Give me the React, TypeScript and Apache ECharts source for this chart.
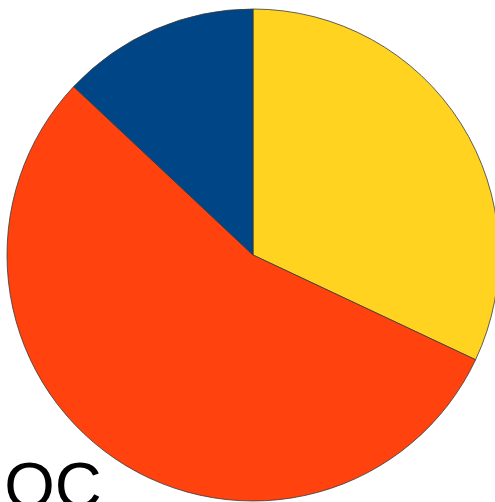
import React, { useEffect, useRef } from "react";
import * as echarts from "echarts";

const categories = ["A", "B", "C"];
const values = [32, 55, 13];
const colors = ["#ffd320", "#ff420e", "#004586"];
const titleText = "LOC";

export default function App() {
  const ref = useRef<HTMLDivElement>(null);
  useEffect(() => {
    if (!ref.current) return;
    const chart = echarts.init(ref.current, undefined, { renderer: "svg" });
    chart.setOption({
      animation: false,
      backgroundColor: "#ffffff",
      series: [
        {
          type: "pie",
          center: [253, 255],
          radius: [0, 246],
          startAngle: 90,
          clockwise: true,
          label: { show: false },
          labelLine: { show: false },
          emphasis: { disabled: true },
          itemStyle: { borderColor: "#3a3a3a", borderWidth: 0.8 },
          data: categories.map((c, i) => ({
            name: c,
            value: values[i],
            itemStyle: { color: colors[i] },
          })),
        },
      ],
      graphic: [
        {
          type: "text",
          x: -32,
          y: 485.5,
          z: 10,
          style: {
            text: titleText,
            font: "65px 'Liberation Sans', Arial, sans-serif",
            fill: "#000000",
            verticalAlign: "middle",
            align: "left",
          },
        },
      ],
    });
    return () => chart.dispose();
  }, []);
  return (
    <div
      ref={ref}
      style={{ position: "fixed", left: 0, top: 0, width: 495, height: 502 }}
    />
  );
}
